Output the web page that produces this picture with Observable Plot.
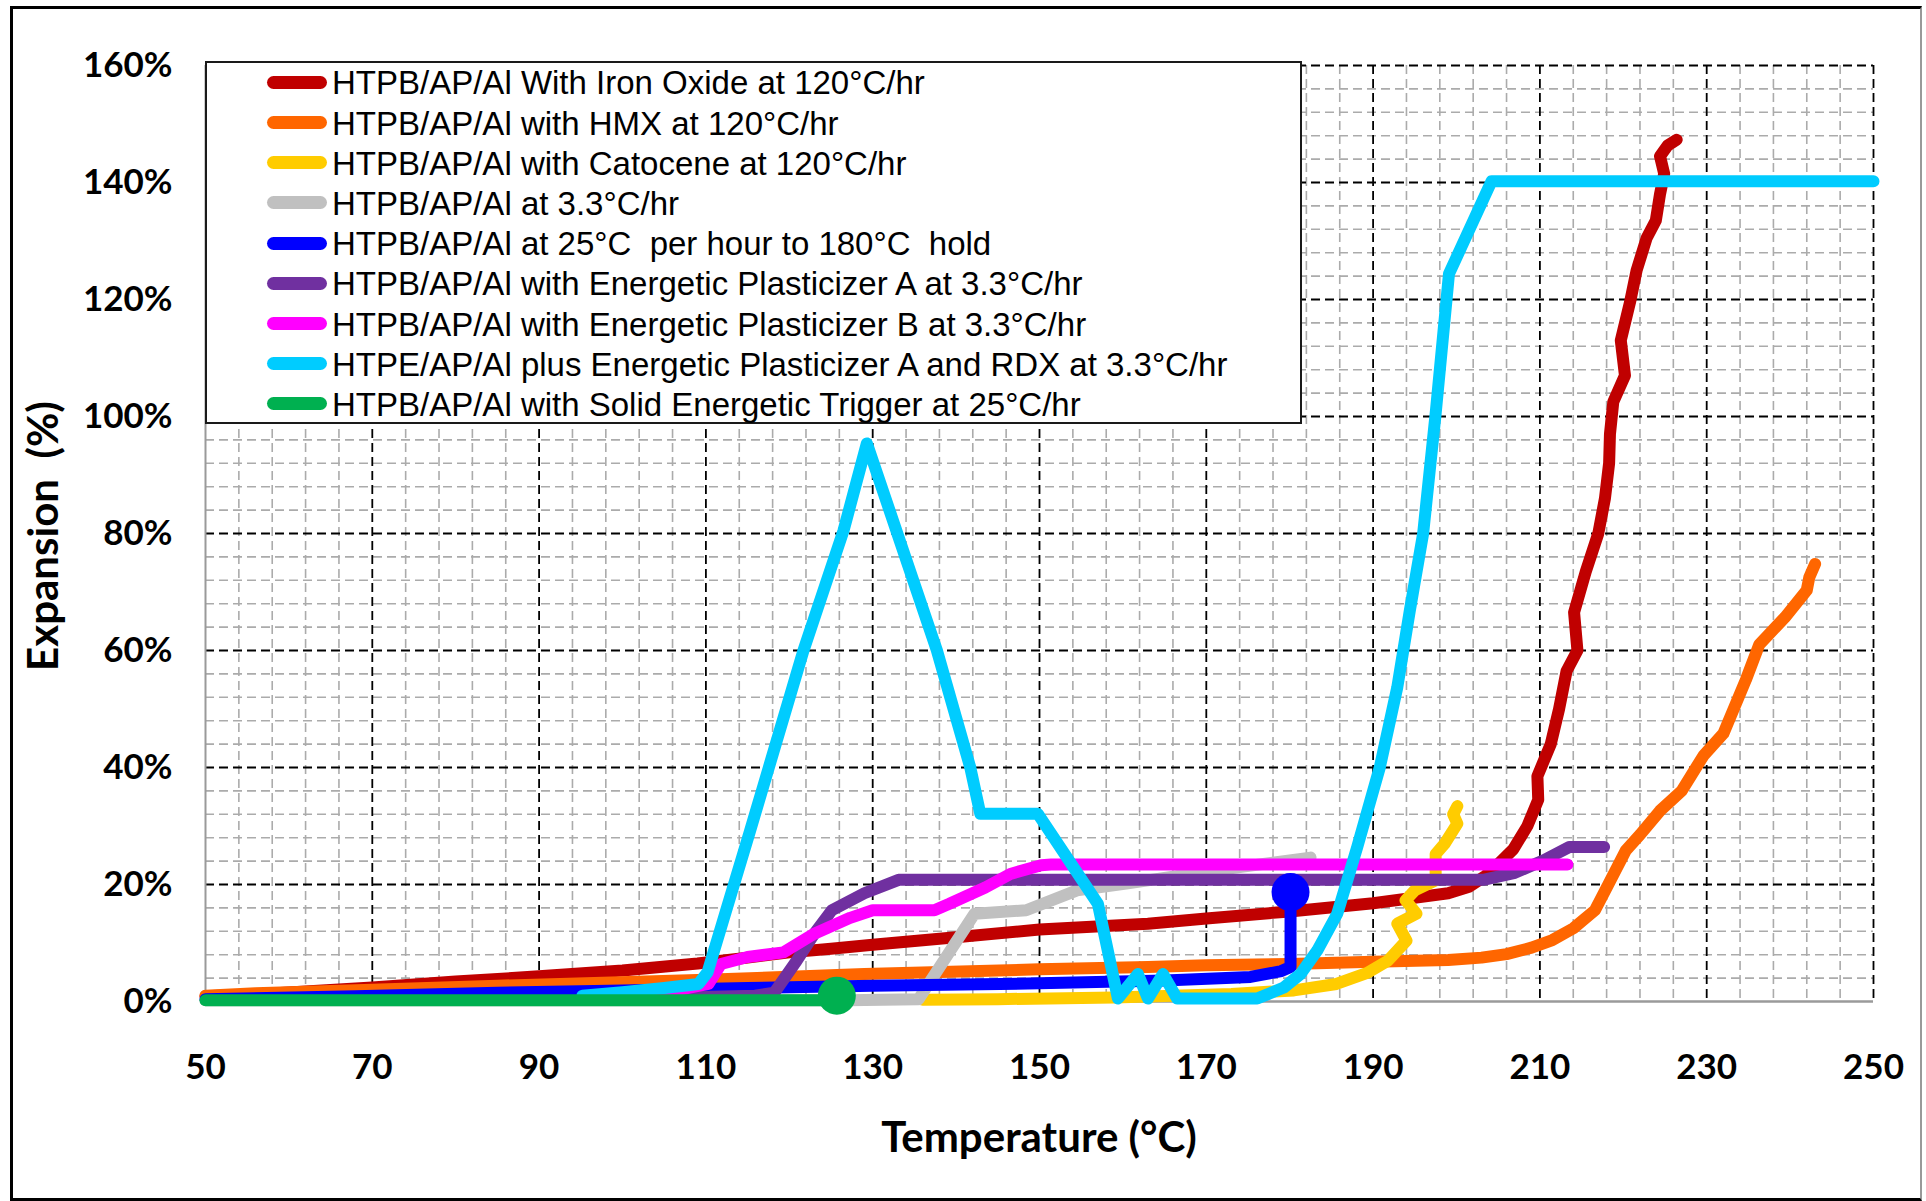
<!DOCTYPE html>
<html>
<head>
<meta charset="utf-8">
<script src="https://cdn.jsdelivr.net/npm/d3@7"></script>
<script src="https://cdn.jsdelivr.net/npm/@observablehq/plot@0.6"></script>
<style>
html, body { margin: 0; padding: 0; background: #fff; }
#wrap { position: relative; width: 1926px; height: 1201px; overflow: hidden; background: #fff; }
#wrap svg { position: absolute; left: 0; top: 0; }
#frame { position: absolute; left: 10px; top: 6px; width: 1912px; height: 1195px; box-sizing: border-box;
  border-left: 3px solid #000; border-top: 3px solid #000; border-bottom: 3px solid #000; border-right: 2px solid #999; pointer-events: none; }
#legend { position: absolute; left: 205px; top: 61px; width: 1097px; height: 363px; box-sizing: border-box;
  background: #fff; border: 2px solid #1a1a1a; font-family: "Liberation Sans", Arial, sans-serif; font-size: 33px; color: #000; }
#legend .sw { position: absolute; left: 60px; width: 60px; height: 13px; border-radius: 7px; }
#legend .lab { position: absolute; left: 125px; white-space: pre; line-height: 33px; height: 33px; }
</style>
</head>
<body>
<div id="wrap"></div>
<script>
// ---- data ----
const seriesNames = [
  "HTPB/AP/Al With Iron Oxide at 120°C/hr",
  "HTPB/AP/Al with HMX at 120°C/hr",
  "HTPB/AP/Al with Catocene at 120°C/hr",
  "HTPB/AP/Al at 3.3°C/hr",
  "HTPB/AP/Al at 25°C  per hour to 180°C  hold",
  "HTPB/AP/Al with Energetic Plasticizer A at 3.3°C/hr",
  "HTPB/AP/Al with Energetic Plasticizer B at 3.3°C/hr",
  "HTPE/AP/Al plus Energetic Plasticizer A and RDX at 3.3°C/hr",
  "HTPB/AP/Al with Solid Energetic Trigger at 25°C/hr"
];
const seriesColors = ["#C00000", "#FF6600", "#FFCC00", "#C0C0C0", "#0000FF", "#7030A0", "#FF00FF", "#00CCFF", "#00B050"];

// [temperature °C, expansion %]
const ironOxide = [[50,0.9],[56,1.2],[63,1.8],[70,2.4],[80,3.4],[90,4.3],[100,5.3],[109,6.5],[115,7.5],[120,8.4],[125,9.0],[130,9.7],[140,11.0],[150,12.3],[163,13.3],[170,14.2],[180,15.4],[190,16.8],[199,18.5],[201.5,19.6],[203.5,21.5],[205,23.5],[206.8,26],[208.5,30],[209.8,34.5],[209.7,38.5],[211.3,44],[212.3,50],[213.2,56.5],[214.5,60],[214.1,66.5],[215.5,73.5],[217,80],[217.8,86],[218.3,92],[218.4,97],[218.8,102.5],[220.2,107],[219.7,113],[220.8,119.5],[221.6,125],[222.8,130.5],[223.9,133.5],[224.4,138],[224.9,141.5],[224.4,144.5],[225.3,146.3],[226.4,147.3]];
const hmx = [[50,1.0],[56,1.4],[70,2.0],[85,2.7],[110,3.7],[129,4.7],[150,5.5],[163,5.9],[170,6.2],[180,6.4],[190,6.8],[199,7.1],[203,7.5],[206,8.1],[209,9.2],[211.5,10.5],[214,12.5],[216.6,15.6],[218.2,20],[220.3,25.8],[222,28.5],[224.4,32.6],[227,36],[229.6,42],[232,45.8],[234.7,55],[236.3,61],[239.4,65.7],[242,70.3],[242.3,72.5],[243,74.8]];
const catocene = [[136,0.3],[145,0.4],[159,0.7],[173,1.3],[180.5,1.9],[185.6,3.0],[189.3,4.9],[191.8,7.0],[194,10.4],[192.9,13.3],[195.2,15],[193.9,17.3],[195,19],[197.5,20.7],[197.5,25.2],[198.6,27],[200.1,30.4],[199.6,32],[200.1,33.4]];
const baseline33 = [[50,0.2],[127,0.2],[135.5,0.4],[142.2,15],[148.4,15.6],[154.5,19],[160.6,20.2],[170,22.2],[182.5,24.6]];
const blueHold = [[50,0.4],[68,0.9],[85,1.5],[100,1.9],[115,2.3],[130,2.7],[150,3.1],[165,3.6],[175.3,4.2],[179,5.2],[180.1,5.9],[180.1,18.7]];
const plasticizerA = [[95,0.3],[115.9,1.0],[118.2,1.5],[120.9,7],[123,11.6],[125.1,15.6],[129,18.5],[133.1,20.8],[203.2,20.8],[207,22],[210.4,24.1],[213.5,26.4],[217.7,26.4]];
const plasticizerB = [[103.2,1.0],[110.3,3.0],[111.8,6.4],[115,7.6],[119.3,8.4],[123,11.6],[127.3,14.3],[130,15.6],[137.4,15.6],[139.2,16.7],[143.5,19.5],[146.5,21.8],[150.2,23.3],[151.4,23.4],[213.3,23.4]];
const htpe = [[95.2,1.0],[100,1.6],[105,2.3],[109.1,3.0],[110.2,5],[115.3,29.2],[121.7,60],[126.5,80.5],[129.3,95.4],[137.7,60],[141.7,40],[142.9,32.1],[149.8,32.1],[157,16.7],[159.4,0.5],[161.8,4.7],[163,0.5],[164.8,4.7],[166.5,0.5],[176.1,0.5],[179.3,2.4],[181.3,4.7],[183.3,8.7],[185.7,15],[188.1,26.4],[190.8,40],[192.9,53.7],[194.4,66.8],[196,80],[197.5,100.5],[199.1,124.4],[204.2,140.2],[250,140.2]];
const trigger = [[50,0.2],[125.7,0.2]];
// end markers: [series index, temperature, expansion]
const endMarkers = [[8,125.7,1.0],[4,180.1,18.7]];

const xTicks = [50,70,90,110,130,150,170,190,210,230,250];
const yTicks = [0,20,40,60,80,100,120,140,160];

// ---- build ----
const seriesData = [ironOxide, hmx, catocene, baseline33, blueHold, plasticizerA, plasticizerB, htpe, trigger];
const rows = seriesData.flatMap((pts, i) => pts.map(([t, e]) => ({t, e, s: seriesNames[i]})));
const markerRows = endMarkers.map(([i, t, e]) => ({t, e, s: seriesNames[i]}));

const xMinor = d3.range(50, 250.01, 4).filter(v => !xTicks.includes(v));
const yMinor = d3.range(0, 160.01, 4).filter(v => !yTicks.includes(v));
const xMajor = xTicks.filter(v => v !== 50);
const yMajor = yTicks.filter(v => v !== 0);

const W = 1926, H = 1201;
const chart = Plot.plot({
  width: W, height: H,
  marginLeft: 205, marginRight: 53, marginTop: 65, marginBottom: 200,
  style: {background: "transparent", color: "#000"},
  x: {domain: [50, 250]},
  y: {domain: [0, 160]},
  color: {domain: seriesNames, range: seriesColors},
  marks: [
    Plot.ruleX(xMinor, {stroke: "#ababab", strokeWidth: 1.6, strokeDasharray: "9,5"}),
    Plot.ruleY(yMinor, {stroke: "#ababab", strokeWidth: 1.6, strokeDasharray: "9,5"}),
    Plot.ruleX(xMajor, {stroke: "#000", strokeWidth: 1.8, strokeDasharray: "9,5"}),
    Plot.ruleY(yMajor, {stroke: "#000", strokeWidth: 1.8, strokeDasharray: "9,5"}),
    Plot.ruleX([50], {stroke: "#9a9a9a", strokeWidth: 2}),
    Plot.ruleY([0], {stroke: "#9a9a9a", strokeWidth: 2.5}),
    Plot.axisX({ticks: xTicks, tickSize: 0, tickPadding: 53, label: null, tickFormat: d => String(d),
      fontSize: 35, fontWeight: "bold", fontFamily: "Lato", fill: "#000"}),
    Plot.axisY({ticks: yTicks, tickSize: 0, tickPadding: 33, label: null, tickFormat: d => d + "%",
      fontSize: 35, fontWeight: "bold", fontFamily: "Lato", fill: "#000"}),
    Plot.line(rows, {x: "t", y: "e", z: "s", stroke: "s", strokeWidth: 12, strokeLinejoin: "round", strokeLinecap: "round"}),
    Plot.dot(markerRows, {x: "t", y: "e", fill: "s", r: 19, stroke: null})
  ]
});

const wrap = document.getElementById("wrap");
wrap.appendChild(chart);

// axis titles
const svg = d3.select(chart);
svg.append("text")
  .attr("x", 1039).attr("y", 1141)
  .attr("text-anchor", "middle").attr("dominant-baseline", "middle")
  .attr("font-family", "Lato").attr("font-weight", "bold").attr("font-size", 42).attr("fill", "#000")
  .text("Temperature (°C)");
svg.append("text")
  .attr("transform", "translate(47,536) rotate(-90)")
  .attr("text-anchor", "middle").attr("dominant-baseline", "middle")
  .attr("font-family", "Lato").attr("font-weight", "bold").attr("font-size", 42).attr("fill", "#000")
  .style("white-space", "pre")
  .text("Expansion  (%)");

// legend (inside plot area, top-left)
const legend = document.createElement("div");
legend.id = "legend";
seriesNames.forEach((name, i) => {
  const cy = 19.3 + i * 40.2;
  const sw = document.createElement("div");
  sw.className = "sw";
  sw.style.top = (cy - 6.5) + "px";
  sw.style.background = seriesColors[i];
  const lab = document.createElement("div");
  lab.className = "lab";
  lab.style.top = (cy - 16) + "px";
  lab.textContent = name;
  legend.appendChild(sw);
  legend.appendChild(lab);
});
wrap.appendChild(legend);

const frame = document.createElement("div");
frame.id = "frame";
wrap.appendChild(frame);
</script>
</body>
</html>
